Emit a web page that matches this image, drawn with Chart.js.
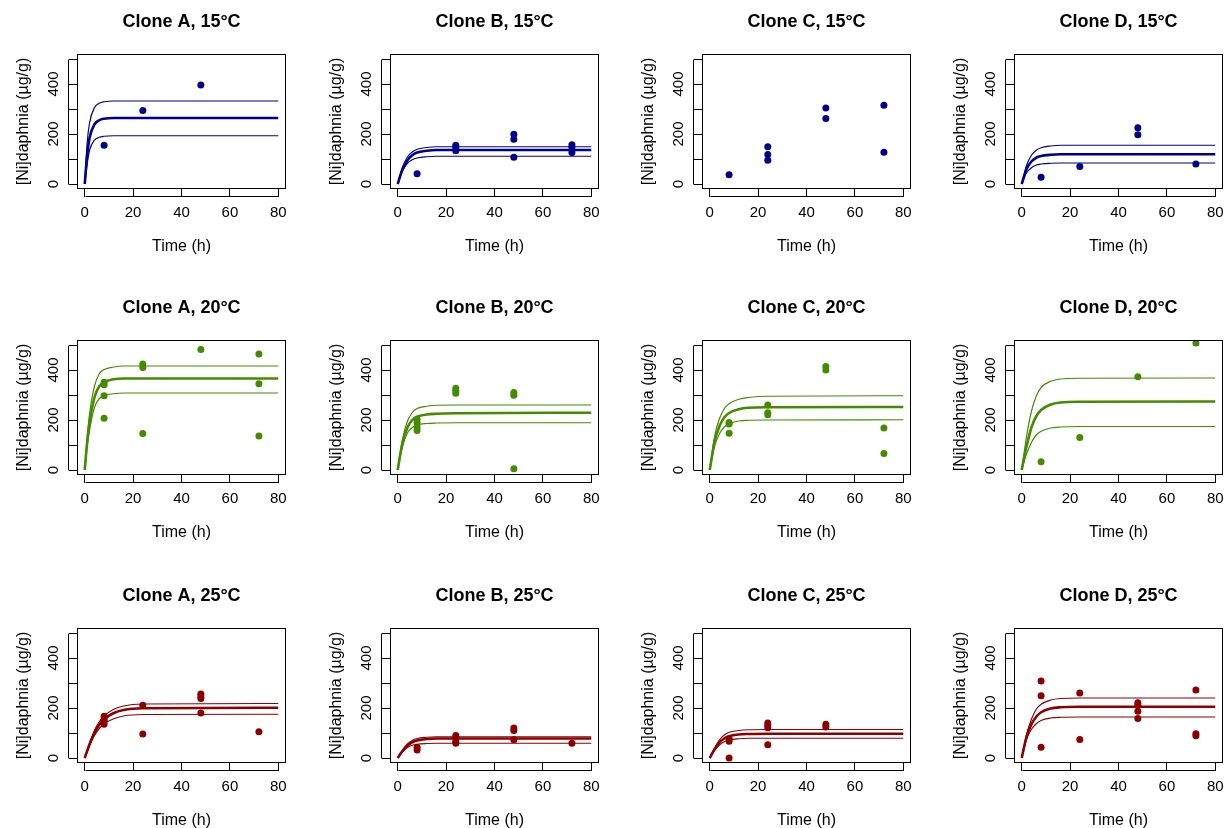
<!DOCTYPE html>
<html lang="en">
<head>
<meta charset="UTF-8">
<title>Ni uptake in Daphnia clones</title>
<script src="https://cdn.jsdelivr.net/npm/chart.js@4.4.1/dist/chart.umd.min.js"></script>
<style>
  html, body { margin: 0; padding: 0; background: #fff; overflow: hidden; }
  #wrap { position: relative; width: 1224px; height: 828px; }
  #wrap canvas { position: absolute; }
</style>
</head>
<body>
<div id="wrap"></div>
<script>
const FONT = '"Liberation Sans", Arial, sans-serif';

const tempColors = ['#00008B', '#458B00', '#8B0000'];
const xTicks = [0, 20, 40, 60, 80];
const yTicks = [0, 100, 200, 300, 400, 500];
const yTickLabels = ['0', '', '200', '', '400', ''];

const fitTime = [0, 1, 2, 4, 6, 8, 12, 16, 24, 80];

// ---- 15 °C ----
const obsTimeA15 = [8, 24, 48];
const obsA15 = [155, 294, 396];
const fitLoA15 = [0, 80, 135, 175, 187, 191, 193, 193, 193, 193];
const fitMidA15 = [0, 115, 185, 238, 255, 261, 264, 264, 264, 264];
const fitUpA15 = [0, 165, 245, 305, 323, 329, 332, 332, 332, 332];

const obsTimeB15 = [8, 24, 24, 24, 48, 48, 48, 72, 72, 72];
const obsB15 = [41, 155, 146, 133, 199, 179, 107, 157, 146, 126];
const fitLoB15 = [0, 28, 52, 83, 97, 104, 109, 111, 111, 111];
const fitMidB15 = [0, 32, 60, 95, 115, 126, 133, 136, 136, 136];
const fitUpB15 = [0, 36, 68, 108, 128, 139, 146, 149, 149, 149];

const obsTimeC15 = [8, 24, 24, 24, 48, 48, 72, 72];
const obsC15 = [37, 149, 118, 95, 304, 262, 315, 127];

const obsTimeD15 = [8, 24, 48, 48, 72];
const obsD15 = [27, 70, 225, 197, 80];
const fitLoD15 = [0, 25, 45, 65, 76, 80, 83, 84, 84, 84];
const fitMidD15 = [0, 32, 60, 90, 105, 112, 117, 119, 119, 119];
const fitUpD15 = [0, 40, 75, 115, 135, 145, 152, 155, 155, 155];

// ---- 20 °C ----
const obsTimeA20 = [8, 8, 8, 8, 24, 24, 24, 48, 72, 72, 72];
const obsA20 = [351, 341, 297, 207, 424, 410, 146, 482, 464, 345, 136];
const fitLoA20 = [0, 95, 160, 250, 285, 298, 305, 308, 308, 308];
const fitMidA20 = [0, 110, 190, 290, 335, 352, 363, 366, 366, 366];
const fitUpA20 = [0, 130, 225, 335, 385, 402, 412, 416, 416, 416];

const obsTimeB20 = [8, 8, 8, 8, 24, 24, 24, 48, 48, 48];
const obsB20 = [203, 190, 172, 158, 327, 318, 307, 310, 299, 5];
const fitLoB20 = [0, 52, 95, 148, 170, 180, 186, 188, 189, 189];
const fitMidB20 = [0, 60, 110, 170, 200, 213, 222, 225, 227, 229];
const fitUpB20 = [0, 68, 125, 195, 230, 246, 255, 259, 260, 260];

const obsTimeC20 = [8, 8, 8, 24, 24, 24, 48, 48, 72, 72];
const obsC20 = [190, 184, 147, 260, 229, 221, 414, 400, 168, 66];
const fitLoC20 = [0, 50, 95, 145, 172, 185, 196, 199, 200, 201];
const fitMidC20 = [0, 60, 115, 175, 210, 228, 243, 249, 251, 252];
const fitUpC20 = [0, 70, 135, 205, 245, 265, 283, 290, 295, 297];

const obsTimeD20 = [8, 24, 48, 72];
const obsD20 = [33, 130, 373, 508];
const fitLoD20 = [0, 35, 65, 110, 140, 155, 168, 172, 174, 174];
const fitMidD20 = [0, 50, 95, 170, 215, 240, 262, 270, 273, 274];
const fitUpD20 = [0, 70, 135, 235, 295, 330, 355, 364, 367, 368];

// ---- 25 °C ----
const obsTimeA25 = [8, 8, 8, 8, 24, 24, 48, 48, 48, 48, 72];
const obsA25 = [167, 155, 147, 135, 211, 96, 256, 248, 238, 180, 105];
const fitLoA25 = [0, 25, 50, 90, 118, 137, 157, 168, 174, 175];
const fitMidA25 = [0, 28, 55, 100, 133, 155, 180, 192, 199, 201];
const fitUpA25 = [0, 31, 60, 110, 145, 168, 195, 208, 216, 218];

const obsTimeB25 = [8, 8, 24, 24, 24, 24, 48, 48, 48, 72];
const obsB25 = [43, 32, 90, 81, 67, 59, 120, 110, 73, 59];
const fitLoB25 = [0, 13, 25, 42, 51, 55, 58, 59, 59, 59];
const fitMidB25 = [0, 15, 28, 50, 63, 70, 76, 78, 78, 78];
const fitUpB25 = [0, 17, 32, 56, 70, 78, 83, 85, 85, 85];

const obsTimeC25 = [8, 8, 8, 24, 24, 24, 24, 48, 48];
const obsC25 = [77, 67, 0, 140, 131, 121, 53, 135, 124];
const fitLoC25 = [0, 16, 30, 52, 65, 72, 77, 79, 79, 79];
const fitMidC25 = [0, 18, 35, 62, 78, 87, 94, 96, 97, 97];
const fitUpC25 = [0, 21, 40, 72, 92, 103, 110, 113, 114, 114];

const obsTimeD25 = [8, 8, 8, 24, 24, 48, 48, 48, 48, 72, 72, 72];
const obsD25 = [308, 249, 43, 260, 74, 221, 211, 187, 158, 272, 97, 89];
const fitLoD25 = [0, 40, 75, 115, 137, 150, 160, 163, 164, 164];
const fitMidD25 = [0, 45, 85, 135, 165, 183, 198, 203, 205, 205];
const fitUpD25 = [0, 50, 95, 155, 195, 215, 232, 238, 240, 240];

const panels = [
  ['Clone A, 15°C', 0, obsTimeA15, obsA15, [fitLoA15, fitMidA15, fitUpA15]],
  ['Clone B, 15°C', 0, obsTimeB15, obsB15, [fitLoB15, fitMidB15, fitUpB15]],
  ['Clone C, 15°C', 0, obsTimeC15, obsC15, []],
  ['Clone D, 15°C', 0, obsTimeD15, obsD15, [fitLoD15, fitMidD15, fitUpD15]],
  ['Clone A, 20°C', 1, obsTimeA20, obsA20, [fitLoA20, fitMidA20, fitUpA20]],
  ['Clone B, 20°C', 1, obsTimeB20, obsB20, [fitLoB20, fitMidB20, fitUpB20]],
  ['Clone C, 20°C', 1, obsTimeC20, obsC20, [fitLoC20, fitMidC20, fitUpC20]],
  ['Clone D, 20°C', 1, obsTimeD20, obsD20, [fitLoD20, fitMidD20, fitUpD20]],
  ['Clone A, 25°C', 2, obsTimeA25, obsA25, [fitLoA25, fitMidA25, fitUpA25]],
  ['Clone B, 25°C', 2, obsTimeB25, obsB25, [fitLoB25, fitMidB25, fitUpB25]],
  ['Clone C, 25°C', 2, obsTimeC25, obsC25, [fitLoC25, fitMidC25, fitUpC25]],
  ['Clone D, 25°C', 2, obsTimeD25, obsD25, [fitLoD25, fitMidD25, fitUpD25]]
];

const colLeft = [-1, 312, 624, 936];
const rowTop = [0, 286, 574];

// R style frame + detached axis lines
const rFrame = {
  id: 'rFrame',
  afterDraw(chart) {
    const { ctx, chartArea: a, scales: { x, y } } = chart;
    ctx.save();
    ctx.strokeStyle = '#000';
    ctx.lineWidth = 1;
    const l = Math.round(a.left) + 0.5, t = Math.round(a.top) + 0.5;
    const r = Math.round(a.right) - 0.5, b = Math.round(a.bottom) - 0.5;
    ctx.strokeRect(l, t, r - l, b - t);
    ctx.beginPath();
    const yb = Math.round(a.bottom) + 7.5;
    ctx.moveTo(Math.round(x.getPixelForValue(xTicks[0])) + 0.5, yb);
    ctx.lineTo(Math.round(x.getPixelForValue(xTicks[xTicks.length - 1])) + 0.5, yb);
    const xl = Math.round(a.left) - 8.5;
    ctx.moveTo(xl, Math.round(y.getPixelForValue(yTicks[0])) + 0.5);
    ctx.lineTo(xl, Math.round(y.getPixelForValue(yTicks[yTicks.length - 1])) + 0.5);
    ctx.stroke();
    ctx.restore();
  }
};

const wrap = document.getElementById('wrap');

panels.forEach((p, i) => {
  const [title, ci, obsT, obsY, fits] = p;
  const col = tempColors[ci];
  const cv = document.createElement('canvas');
  cv.width = 300;
  cv.height = 287;
  cv.style.left = colLeft[i % 4] + 'px';
  cv.style.top = rowTop[Math.floor(i / 4)] + 'px';
  wrap.appendChild(cv);

  const datasets = [{
    data: obsT.map((t, k) => ({ x: t, y: obsY[k] })),
    backgroundColor: col,
    borderWidth: 0,
    pointRadius: 3.5,
    showLine: false
  }];
  fits.forEach((f, k) => {
    datasets.push({
      data: fitTime.map((t, m) => ({ x: t, y: f[m] })),
      showLine: true,
      borderColor: col,
      borderWidth: k === 1 ? 2.6 : 1.2,
      pointRadius: 0,
      cubicInterpolationMode: 'monotone'
    });
  });

  new Chart(cv, {
    type: 'scatter',
    data: { datasets },
    options: {
      responsive: false,
      animation: false,
      devicePixelRatio: 1,
      layout: { padding: { left: 0, right: 13, top: 0, bottom: 31 } },
      plugins: {
        legend: { display: false },
        tooltip: { enabled: false },
        title: {
          display: true,
          text: title,
          fullSize: false,
          color: '#000',
          font: { family: FONT, size: 18, weight: 'bold' },
          padding: { top: 11, bottom: 21.4 }
        }
      },
      scales: {
        x: {
          type: 'linear',
          min: -3.2,
          max: 83.2,
          afterBuildTicks: s => { s.ticks = xTicks.map(v => ({ value: v })); },
          afterFit: s => { s.height = 67; },
          grid: { drawOnChartArea: false, tickLength: 8, color: '#000' },
          border: { display: false },
          ticks: { color: '#000', font: { family: FONT, size: 15 }, padding: 7, maxRotation: 0, autoSkip: false },
          title: { display: true, text: 'Time (h)', color: '#000', font: { family: FONT, size: 16 }, padding: 0 }
        },
        y: {
          type: 'linear',
          min: -20,
          max: 520,
          afterBuildTicks: s => { s.ticks = yTicks.map(v => ({ value: v })); },
          afterFit: s => { s.width = 78; },
          grid: { drawOnChartArea: false, tickLength: 8, color: '#000' },
          border: { display: false },
          ticks: {
            color: '#000', font: { family: FONT, size: 15 }, padding: 3,
            minRotation: 90, maxRotation: 90, crossAlign: 'center', autoSkip: false,
            callback: v => yTickLabels[yTicks.indexOf(v)]
          },
          title: { display: true, text: '[Ni]daphnia (µg/g)', color: '#000', font: { family: FONT, size: 16 }, padding: { top: 15, bottom: 0 } }
        }
      }
    },
    plugins: [rFrame]
  });
});
</script>
</body>
</html>
